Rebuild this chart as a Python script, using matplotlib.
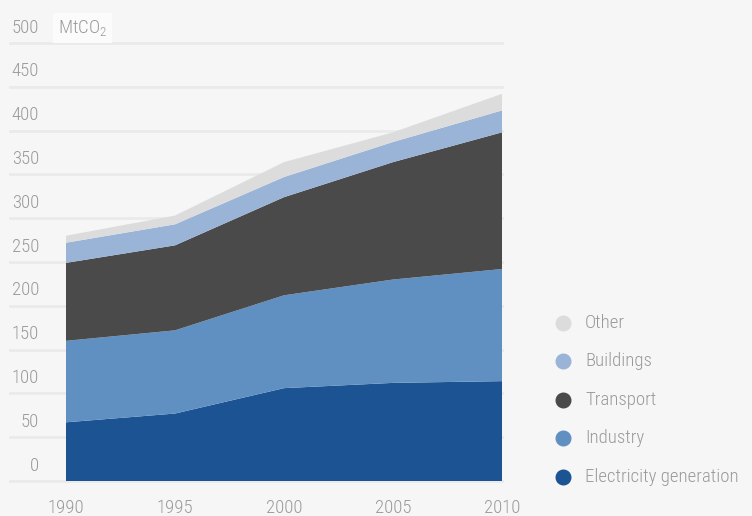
import matplotlib
matplotlib.use("Agg")
import matplotlib.pyplot as plt
from matplotlib import font_manager, transforms
from matplotlib.lines import Line2D

years = [1990, 1995, 2000, 2005, 2010]
categories = ["Electricity generation", "Industry", "Transport", "Buildings", "Other"]
electricity = [67, 77, 106, 112, 114]
industry = [93, 95, 106, 118, 128]
transport = [89, 97, 112, 134, 156]
buildings = [23, 24, 23, 23, 25]
other = [8, 10, 17, 11, 19]
colors = ["#1b5393", "#6090c2", "#4a4a4a", "#9ab4d8", "#dcdcdc"]
yticks = [0, 50, 100, 150, 200, 250, 300, 350, 400, 450, 500]
unit = "MtCO$_2$"

names = {f.name for f in font_manager.fontManager.ttflist}
fam = None
for cand in ["Roboto Condensed", "Liberation Sans Narrow", "Roboto"]:
    if cand in names:
        fam = cand
        break
plt.rcParams["font.family"] = [fam, "DejaVu Sans"]
plt.rcParams["font.weight"] = "light"
plt.rcParams["mathtext.fontset"] = "custom"
plt.rcParams["mathtext.rm"] = fam + ":light"
plt.rcParams["mathtext.it"] = fam + ":light"
plt.rcParams["mathtext.default"] = "regular"
fs = 13.5 if fam != "Roboto" else 12.5

W, H = 752, 516
bg = "#f6f6f6"
txtc = "#9a9a9a"
fig = plt.figure(figsize=(W / 100, H / 100), dpi=100, facecolor=bg)
ax = fig.add_axes([10 / W, 1 - 481 / H, 492 / W, 438 / H])
ax.set_facecolor(bg)
for s in ax.spines.values():
    s.set_visible(False)

px_per_year = 436 / 20
ax.set_xlim(1990 - 56 / px_per_year, 2010)
ax.set_ylim(0, 500)

for v in yticks:
    ax.axhline(v, color="#eaeaea", lw=2, zorder=0, clip_on=False)

ax.stackplot(years, electricity, industry, transport, buildings, other,
             colors=colors, zorder=2, linewidth=0)

ax.set_yticks([])
ax.set_xticks(years)
ax.set_xticklabels([str(y) for y in years], fontsize=fs, color=txtc)
ax.tick_params(axis="x", length=0, pad=13)

off = transforms.offset_copy(ax.get_yaxis_transform(), fig=fig, x=0, y=7.5, units="points")
for v in yticks:
    ax.text((39 - 10) / 492, v, str(v), transform=off, ha="right", va="baseline",
            fontsize=fs, color=txtc, clip_on=False)

fig.text(58 / W, 1 - 28 / H, unit, ha="left", va="center", fontsize=fs, color=txtc,
         bbox=dict(boxstyle="square,pad=0.25", fc="#fbfbfb", ec="none"))

leg_y = [477, 438, 400, 361, 323]
for cat, c, yy in zip(categories, colors, leg_y):
    fig.add_artist(Line2D([563 / W], [1 - yy / H], marker="o", markersize=10.5,
                          color=c, linestyle="", transform=fig.transFigure))
    fig.text(585 / W, 1 - yy / H, cat, ha="left", va="center", fontsize=fs, color=txtc)

fig.savefig("out.png", dpi=100, facecolor=bg)
